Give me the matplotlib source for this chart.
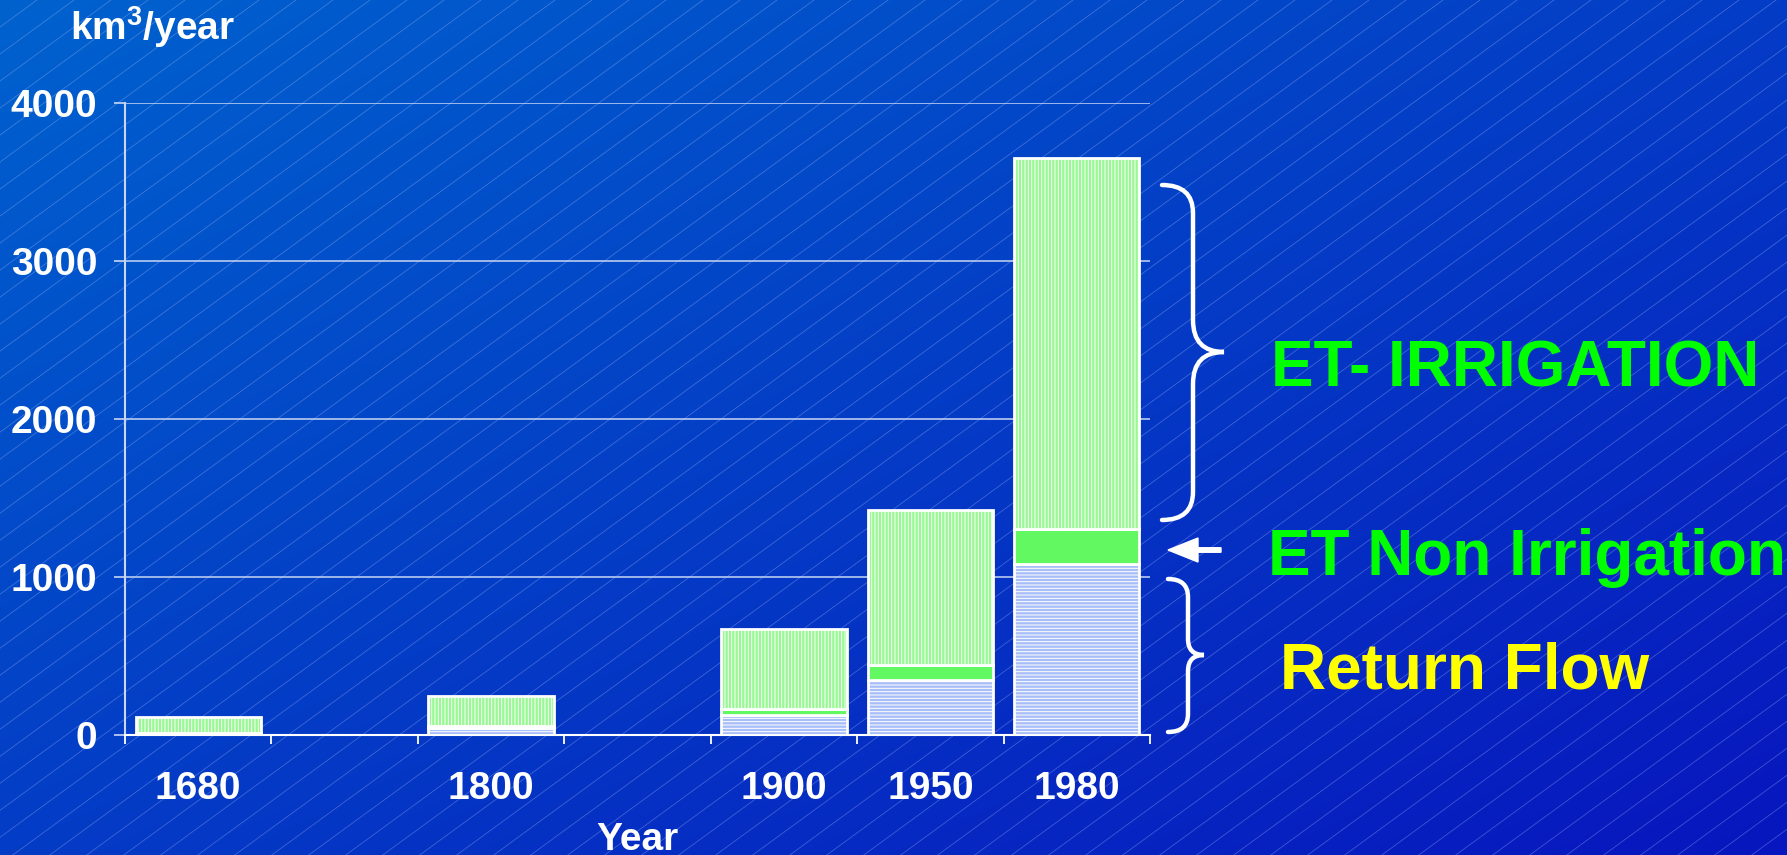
import numpy as np
import matplotlib
matplotlib.use("Agg")
import matplotlib.pyplot as plt
from matplotlib.path import Path
from matplotlib.patches import PathPatch, FancyArrow

# ---------------- data ----------------
year_labels = ['1680', '', '1800', '', '1900', '1950', '1980']
return_flow = [10, 0, 45, 0, 125, 350, 1080]
et_non_irrigation = [0, 0, 15, 0, 40, 90, 220]
et_irrigation = [106, 0, 187, 0, 503, 980, 2350]
y_ticks = [0, 1000, 2000, 3000, 4000]

W, H = 1787, 855
FONT = 'Liberation Sans'
plt.rcParams['font.family'] = [FONT, 'DejaVu Sans']
plt.rcParams['font.weight'] = 'bold'
plt.rcParams['hatch.linewidth'] = 0.7
plt.rcParams['mathtext.fontset'] = 'custom'
plt.rcParams['mathtext.rm'] = 'Liberation Sans:bold'
plt.rcParams['mathtext.it'] = 'Liberation Sans:bold'
plt.rcParams['mathtext.bf'] = 'Liberation Sans:bold'

fig = plt.figure(figsize=(W / 100, H / 100), dpi=100)

# ---------------- background ----------------
bg = fig.add_axes([0, 0, 1, 1], zorder=0)
gy, gx = np.mgrid[0:1:200j, 0:1:400j]
t = (gx + gy) / 2.0
c0 = np.array([0, 98, 206]) / 255.0
c1 = np.array([8, 22, 190]) / 255.0
img = c0[None, None, :] * (1 - t[..., None]) + c1[None, None, :] * t[..., None]
bg.imshow(img, extent=[0, W, H, 0], aspect='auto', interpolation='bilinear')
slope = 0.73
step = 37 * slope
for c in np.arange(0, H + slope * W + step, step):
    xs = np.array([0, W])
    bg.plot(xs, c - slope * xs, color='#b8c8ff', lw=0.6, alpha=0.32)
bg.set_xlim(0, W)
bg.set_ylim(H, 0)
bg.axis('off')

# ---------------- main axes ----------------
ax = fig.add_axes([125 / W, 1 - 735 / H, (1150 - 125) / W, (735 - 102.6) / H], zorder=1)
ax.set_facecolor('none')
x = np.arange(len(year_labels))
rf = np.array(return_flow, float)
ni = np.array(et_non_irrigation, float)
ir = np.array(et_irrigation, float)
bw = 0.855
lw = 2.0

m = rf > 0
ax.bar(x[m], rf[m], width=bw, color='#a8bef8', edgecolor='white', linewidth=lw,
       hatch='-----', zorder=3)
m = ni > 0
ax.bar(x[m], ni[m], bottom=rf[m], width=bw, color='#62f862', edgecolor='white',
       linewidth=lw, zorder=3)
m = ir > 0
ax.bar(x[m], ir[m], bottom=(rf + ni)[m], width=bw, color='#98f894', edgecolor='white',
       linewidth=lw, hatch='|||||', zorder=3)

ax.set_xlim(-0.5, len(year_labels) - 0.5)
ax.set_ylim(0, 4000)
ax.set_xticks(np.arange(-0.5, len(year_labels), 1))
ax.set_xticklabels([])
ax.set_xticks(x, year_labels, minor=True)
ax.tick_params(axis='x', which='major', length=6.5, width=1.3, color='white', direction='out')
ax.tick_params(axis='x', which='minor', length=0, pad=26, labelsize=28, labelcolor='white')
ax.set_yticks(y_ticks)
ax.set_yticklabels([str(v) for v in y_ticks])
ax.tick_params(axis='y', length=8, width=1.2, color='#c8d6f4', pad=12, labelsize=28,
               labelcolor='white')
for lab in ax.get_xticklabels(minor=True) + ax.get_yticklabels():
    lab.set_fontweight('bold')
ax.yaxis.grid(True, color='#c8d6f4', lw=1.1)
ax.set_axisbelow(True)
for s in ['top', 'right']:
    ax.spines[s].set_visible(False)
ax.spines['left'].set_color('#c8d6f4')
ax.spines['left'].set_linewidth(1.5)
ax.spines['bottom'].set_color('white')
ax.spines['bottom'].set_linewidth(1.5)

# ---------------- overlay annotations ----------------
ov = fig.add_axes([0, 0, 1, 1], zorder=2)
ov.set_facecolor('none')
ov.set_xlim(0, W)
ov.set_ylim(H, 0)
ov.axis('off')


def brace(x0, xm, xt, yt, yb, ym, r1, r2):
    verts = [(x0, yt), (xm, yt), (xm, yt + r1),
             (xm, ym - r2),
             (xm, ym), (xt, ym),
             (xm, ym), (xm, ym + r2),
             (xm, yb - r1),
             (xm, yb), (x0, yb)]
    codes = [Path.MOVETO, Path.CURVE3, Path.CURVE3,
             Path.LINETO,
             Path.CURVE3, Path.CURVE3,
             Path.CURVE3, Path.CURVE3,
             Path.LINETO,
             Path.CURVE3, Path.CURVE3]
    ov.add_patch(PathPatch(Path(verts, codes), facecolor='none', edgecolor='white',
                           lw=3.2, capstyle='round'))


brace(1162, 1193, 1224, 185, 520, 352, 28, 32)
brace(1168, 1188, 1204, 579, 732, 655, 18, 16)
ov.add_patch(FancyArrow(1221, 550, -53, 0, width=4.5, head_width=24, head_length=30,
                        length_includes_head=True, color='white'))

ov.text(1271, 386, 'ET- IRRIGATION', color='#00ff00', fontsize=46, fontweight='bold',
        ha='left', va='baseline')
ov.text(1268, 575, 'ET Non Irrigation', color='#00ff00', fontsize=46, fontweight='bold',
        ha='left', va='baseline')
ov.text(1280, 688, 'Return Flow', color='#ffff00', fontsize=46, fontweight='bold',
        ha='left', va='baseline')
ov.text(70, 40, r'$\mathrm{km^{3}/year}$', color='white', fontsize=28,
        ha='left', va='baseline')
ov.text(637, 850, 'Year', color='white', fontsize=28, fontweight='bold',
        ha='center', va='baseline')

fig.savefig('out.png', dpi=100)
